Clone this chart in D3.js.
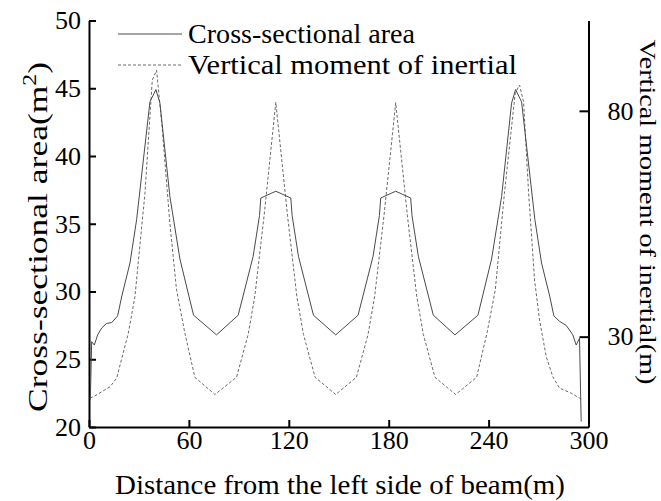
<!DOCTYPE html>
<html>
<head>
<meta charset="utf-8">
<script src="https://cdn.jsdelivr.net/npm/d3@7"></script>
<style>
  html, body { margin: 0; padding: 0; background: #fff; }
  svg { display: block; }
  text { font-family: "Liberation Serif", "Times New Roman", serif; fill: #000; }
</style>
</head>
<body>
<svg id="chart" width="661" height="501"></svg>
<script>
// Distance along the beam (m) and cross-sectional area (m^2)
const areaDistance = [0.8, 1.6, 3.2, 5.2, 7.6, 10.6, 13.6, 17.2, 19.6, 24.6, 28.6, 36.6, 40.2, 42.6, 48.6, 54.6, 62.8, 76.6, 89.6, 98.6, 102.4, 103.2, 112.2, 121.2, 122.0, 125.8, 134.8, 148.2, 161.6, 170.6, 174.4, 175.2, 184.2, 193.2, 194.0, 197.8, 206.8, 219.8, 233.6, 241.8, 247.8, 253.8, 256.2, 259.8, 267.8, 271.8, 276.8, 279.2, 282.6, 286.6, 290.6, 292.6, 294.6, 295.6];
const areaValues = [22.0, 26.3, 26.05, 26.8, 27.3, 27.65, 27.7, 28.2, 29.6, 32.1, 35.3, 44.0, 44.9, 43.9, 37.0, 32.4, 28.25, 26.8, 28.25, 32.6, 35.6, 36.9, 37.4, 36.9, 35.6, 32.6, 28.25, 26.8, 28.25, 32.6, 35.6, 36.9, 37.4, 36.9, 35.6, 32.6, 28.25, 26.8, 28.25, 32.4, 37.0, 43.9, 44.9, 44.0, 35.3, 32.1, 29.6, 28.2, 27.8, 27.5, 26.8, 26.05, 26.55, 20.4];

// Distance along the beam (m) and vertical moment of inertia
const inertiaDistance = [0.6, 3.6, 12.6, 16.6, 23.6, 27.6, 33.6, 38.0, 40.6, 44.0, 48.6, 52.6, 57.6, 63.6, 75.6, 88.6, 95.6, 99.6, 105.2, 112.2, 119.2, 124.8, 128.8, 135.8, 148.2, 160.6, 167.6, 171.6, 177.2, 184.2, 191.2, 196.8, 200.8, 207.8, 220.2, 232.8, 239.0, 244.0, 249.5, 256.0, 258.6, 261.0, 264.0, 267.6, 270.6, 274.6, 278.6, 282.6, 289.6, 294.6, 295.6];
const inertiaValues = [16.4, 16.9, 18.9, 20.8, 30.75, 38.9, 61.7, 86.8, 89.0, 76.0, 55.0, 40.3, 30.75, 21.0, 17.2, 21.0, 30.5, 39.0, 56.9, 81.9, 56.9, 39.0, 30.5, 21.0, 17.2, 21.0, 30.5, 39.0, 56.9, 81.8, 56.9, 39.0, 30.5, 21.0, 17.2, 21.0, 30.75, 40.3, 61.7, 84.0, 85.7, 82.0, 62.0, 42.55, 33.7, 25.6, 21.1, 18.6, 17.5, 16.4, 16.1];

// Axis ticks
const xTicks = [0, 60, 120, 180, 240, 300];
const leftTicks = [20, 25, 30, 35, 40, 45, 50];
const rightTicks = [30, 80];

// Legend entries
const legendLabels = ["Cross-sectional area", "Vertical moment of inertial"];

const svg = d3.select("#chart");
const plot = { left: 89, right: 588.5, top: 20.5, bottom: 427 };

const x = d3.scaleLinear().domain([0, 300]).range([plot.left, plot.right]);
const yLeft = d3.scaleLinear().domain([20, 50]).range([plot.bottom, plot.top]);
const yRight = d3.scaleLinear().domain([10, 100]).range([plot.bottom, plot.top]);

const tickFont = "26px";
const serif = '"Liberation Serif", "Times New Roman", serif';

// Bottom axis (ticks point into the plot)
const gx = svg.append("g")
  .attr("transform", `translate(0,${plot.bottom})`)
  .call(d3.axisBottom(x).tickValues(xTicks).tickSizeInner(-7).tickSizeOuter(0).tickFormat(d3.format("d")));
gx.selectAll("text").attr("y", 4).attr("dy", "0.71em").style("font-size", tickFont);

// Left axis
const gl = svg.append("g")
  .attr("transform", `translate(${plot.left},0)`)
  .call(d3.axisLeft(yLeft).tickValues(leftTicks).tickSizeInner(-7).tickSizeOuter(0));
gl.selectAll("text").attr("x", -8).style("font-size", tickFont);

// Right axis
const gr = svg.append("g")
  .attr("transform", `translate(${plot.right},0)`)
  .call(d3.axisRight(yRight).tickValues(rightTicks).tickSizeInner(-9).tickSizeOuter(0));
gr.selectAll("text").attr("x", 19).style("font-size", tickFont);

[gx, gl, gr].forEach(g => {
  g.select(".domain").attr("stroke", "#000").attr("stroke-width", 2);
  g.selectAll(".tick line").attr("stroke", "#000").attr("stroke-width", 2);
  g.selectAll("text").attr("fill", "#000").style("font-family", serif);
});

// Series lines
const areaLine = d3.line().x((d, i) => x(areaDistance[i])).y(d => yLeft(d));
const inertiaLine = d3.line().x((d, i) => x(inertiaDistance[i])).y(d => yRight(d));

svg.append("path")
  .datum(inertiaValues)
  .attr("fill", "none")
  .attr("stroke", "#6a6a6a")
  .attr("stroke-width", 1)
  .attr("stroke-dasharray", "3,2")
  .attr("d", inertiaLine);

svg.append("path")
  .datum(areaValues)
  .attr("fill", "none")
  .attr("stroke", "#4a4a4a")
  .attr("stroke-width", 1)
  .attr("d", areaLine);

// Axis titles
svg.append("text")
  .attr("transform", `translate(47,237) rotate(-90)`)
  .attr("text-anchor", "middle")
  .attr("textLength", 350)
  .attr("lengthAdjust", "spacingAndGlyphs")
  .style("font-size", "27px")
  .html('Cross-sectional area(m<tspan dy="-11" font-size="18">2</tspan><tspan dy="11">)</tspan>');

svg.append("text")
  .attr("transform", `translate(640,212) rotate(90)`)
  .attr("text-anchor", "middle")
  .attr("textLength", 345)
  .attr("lengthAdjust", "spacingAndGlyphs")
  .style("font-size", "23px")
  .text("Vertical moment of inertial(m)");

svg.append("text")
  .attr("x", 340)
  .attr("y", 494)
  .attr("text-anchor", "middle")
  .attr("textLength", 450)
  .attr("lengthAdjust", "spacingAndGlyphs")
  .style("font-size", "28px")
  .text("Distance from the left side of beam(m)");

// Legend
const legend = svg.append("g");
const legendRows = [
  { label: legendLabels[0], y: 34, dash: null, color: "#4a4a4a", width: 227 },
  { label: legendLabels[1], y: 65, dash: "3,2", color: "#6a6a6a", width: 329 }
];
legendRows.forEach(r => {
  legend.append("line")
    .attr("x1", 118).attr("x2", 182)
    .attr("y1", r.y).attr("y2", r.y)
    .attr("stroke", r.color).attr("stroke-width", 1)
    .attr("stroke-dasharray", r.dash);
  legend.append("text")
    .attr("x", 188).attr("y", r.y + 9)
    .attr("textLength", r.width)
    .attr("lengthAdjust", "spacingAndGlyphs")
    .style("font-size", "28px")
    .text(r.label);
});
</script>
</body>
</html>
